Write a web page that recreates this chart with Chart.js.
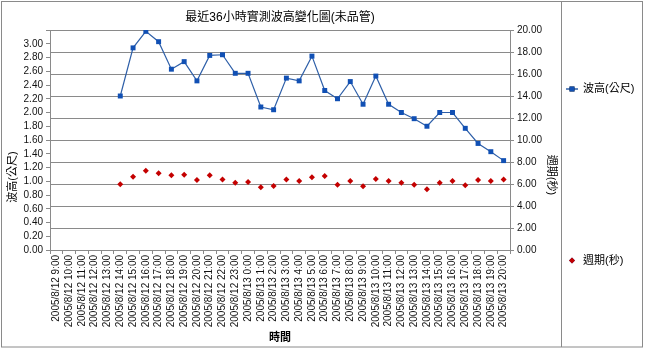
<!DOCTYPE html>
<html>
<head>
<meta charset="utf-8">
<script src="https://cdn.jsdelivr.net/npm/chart.js@4/dist/chart.umd.min.js"></script>
<style>
html,body{margin:0;padding:0;background:#fff;}
canvas{display:block;}
</style>
</head>
<body>
<canvas id="c" width="645" height="351"></canvas>
<script>
const chartTitle = '最近36小時實測波高變化圖(未品管)';
const xTitle = '時間';
const leftTitle = '波高(公尺)';
const rightTitle = '週期(秒)';
const categories = [
  '2005/8/12 9:00','2005/8/12 10:00','2005/8/12 11:00','2005/8/12 12:00','2005/8/12 13:00',
  '2005/8/12 14:00','2005/8/12 15:00','2005/8/12 16:00','2005/8/12 17:00','2005/8/12 18:00',
  '2005/8/12 19:00','2005/8/12 20:00','2005/8/12 21:00','2005/8/12 22:00','2005/8/12 23:00',
  '2005/8/13 0:00','2005/8/13 1:00','2005/8/13 2:00','2005/8/13 3:00','2005/8/13 4:00',
  '2005/8/13 5:00','2005/8/13 6:00','2005/8/13 7:00','2005/8/13 8:00','2005/8/13 9:00',
  '2005/8/13 10:00','2005/8/13 11:00','2005/8/13 12:00','2005/8/13 13:00','2005/8/13 14:00',
  '2005/8/13 15:00','2005/8/13 16:00','2005/8/13 17:00','2005/8/13 18:00','2005/8/13 19:00',
  '2005/8/13 20:00'
];
const waveHeight = [null,null,null,null,null,
  2.24,2.94,3.18,3.03,2.63,2.74,2.46,2.83,2.84,2.57,2.57,2.08,2.04,2.50,2.46,
  2.82,2.32,2.20,2.45,2.12,2.53,2.12,2.00,1.91,1.80,2.00,2.00,1.77,1.55,1.43,1.30];
const wavePeriod = [null,null,null,null,null,
  5.97,6.67,7.21,6.97,6.79,6.85,6.36,6.79,6.42,6.12,6.18,5.70,5.82,6.42,6.27,
  6.61,6.73,5.94,6.27,5.79,6.45,6.27,6.12,5.94,5.52,6.12,6.27,5.88,6.36,6.27,6.42];
const leftTicks = {min: 0, max: 3.2, step: 0.2};
const rightTicks = {min: 0, max: 20, step: 2};

const FONT = "'Liberation Sans', Arial, 'Noto Sans CJK TC', sans-serif";
const GRID = '#8a8a8a';

const extras = {
  id: 'extras',
  afterDraw(chart) {
    const ctx = chart.ctx;
    const a = chart.chartArea;
    ctx.save();
    // outer frame and legend separator
    ctx.strokeStyle = '#8a8a8a';
    ctx.lineWidth = 1;
    ctx.strokeRect(1.5, 1.5, 641, 345.5);
    ctx.beginPath();
    ctx.moveTo(561.5, 1.5);
    ctx.lineTo(561.5, 347);
    ctx.stroke();
    // axis titles
    ctx.fillStyle = '#000';
    ctx.font = "11px " + FONT;
    ctx.textAlign = 'center';
    ctx.textBaseline = 'middle';
    ctx.save();
    ctx.translate(13, a.bottom - 73);
    ctx.rotate(-Math.PI / 2);
    ctx.fillText(leftTitle, 0, 0);
    ctx.restore();
    ctx.save();
    ctx.translate(551, a.bottom - 75);
    ctx.rotate(Math.PI / 2);
    ctx.fillText(rightTitle, 0, 0);
    ctx.restore();
    // legend
    const ds0 = chart.data.datasets[0];
    const ds1 = chart.data.datasets[1];
    const ly0 = 89, ly1 = 260.5;
    ctx.strokeStyle = ds0.borderColor;
    ctx.lineWidth = 1.5;
    ctx.beginPath();
    ctx.moveTo(566, ly0);
    ctx.lineTo(578, ly0);
    ctx.stroke();
    Chart.helpers.drawPoint(ctx, {pointStyle: 'rect', radius: 3.5, borderWidth: 0}, 572, ly0);
    ctx.fillStyle = ds0.pointBackgroundColor;
    ctx.fill();
    ctx.beginPath();
    Chart.helpers.drawPoint(ctx, {pointStyle: 'rectRot', radius: 3, borderWidth: 0}, 572, ly1);
    ctx.fillStyle = ds1.pointBackgroundColor;
    ctx.fill();
    ctx.fillStyle = '#000';
    ctx.textAlign = 'left';
    ctx.font = "11px " + FONT;
    ctx.fillText(ds0.label, 583, ly0);
    ctx.fillText(ds1.label, 583, ly1);
    ctx.restore();
  }
};

new Chart(document.getElementById('c'), {
  type: 'line',
  data: {
    labels: categories,
    datasets: [
      {
        label: '波高(公尺)',
        data: waveHeight,
        yAxisID: 'y',
        borderColor: '#2e5fa8',
        borderWidth: 1.2,
        pointStyle: 'rect',
        pointRadius: 3.5,
        pointBorderWidth: 0,
        pointBackgroundColor: '#1150b4',
        pointBorderColor: '#1150b4',
        tension: 0,
        spanGaps: false
      },
      {
        label: '週期(秒)',
        data: wavePeriod,
        yAxisID: 'y1',
        showLine: false,
        borderColor: '#c00000',
        pointStyle: 'rectRot',
        pointRadius: 3,
        pointBorderWidth: 0,
        pointBackgroundColor: '#c40000',
        pointBorderColor: '#c40000'
      }
    ]
  },
  options: {
    responsive: false,
    animation: false,
    devicePixelRatio: 1,
    layout: {padding: 0},
    plugins: {
      legend: {display: false},
      tooltip: {enabled: false},
      title: {
        display: true,
        text: chartTitle,
        fullSize: false,
        color: '#000',
        font: {family: FONT, size: 12, weight: 'normal', lineHeight: 1.2},
        padding: {top: 10, bottom: 5.6}
      }
    },
    scales: {
      x: {
        type: 'category',
        offset: true,
        afterFit(s) { s.height = 101; },
        grid: {drawOnChartArea: false, drawTicks: true, tickLength: 4, color: GRID, offset: true},
        border: {display: true, color: GRID},
        ticks: {
          autoSkip: false, minRotation: 90, maxRotation: 90, padding: 1,
          color: '#111', font: {family: FONT, size: 10}
        },
        title: {
          display: true, text: xTitle, color: '#000',
          font: {family: FONT, size: 11, weight: 'bold', lineHeight: 1.2},
          padding: {top: 0, bottom: 6.5}
        }
      },
      y: {
        position: 'left',
        min: leftTicks.min, max: leftTicks.max,
        afterFit(s) { s.width = 50; },
        grid: {drawOnChartArea: false, drawTicks: true, tickLength: 4, color: GRID},
        border: {display: true, color: GRID},
        ticks: {
          autoSkip: false,
          stepSize: leftTicks.step, padding: 3, color: '#111',
          font: {family: FONT, size: 10},
          callback(v) { return Math.abs(v - leftTicks.max) < 1e-6 ? '' : Number(v).toFixed(2); }
        }
      },
      y1: {
        position: 'right',
        min: rightTicks.min, max: rightTicks.max,
        afterFit(s) { s.width = 135; },
        grid: {drawOnChartArea: true, drawTicks: true, tickLength: 4, color: GRID},
        border: {display: true, color: GRID},
        ticks: {
          autoSkip: false,
          stepSize: rightTicks.step, padding: 3, color: '#111',
          font: {family: FONT, size: 10},
          callback(v) { return Number(v).toFixed(2); }
        }
      }
    }
  },
  plugins: [extras]
});
</script>
</body>
</html>
